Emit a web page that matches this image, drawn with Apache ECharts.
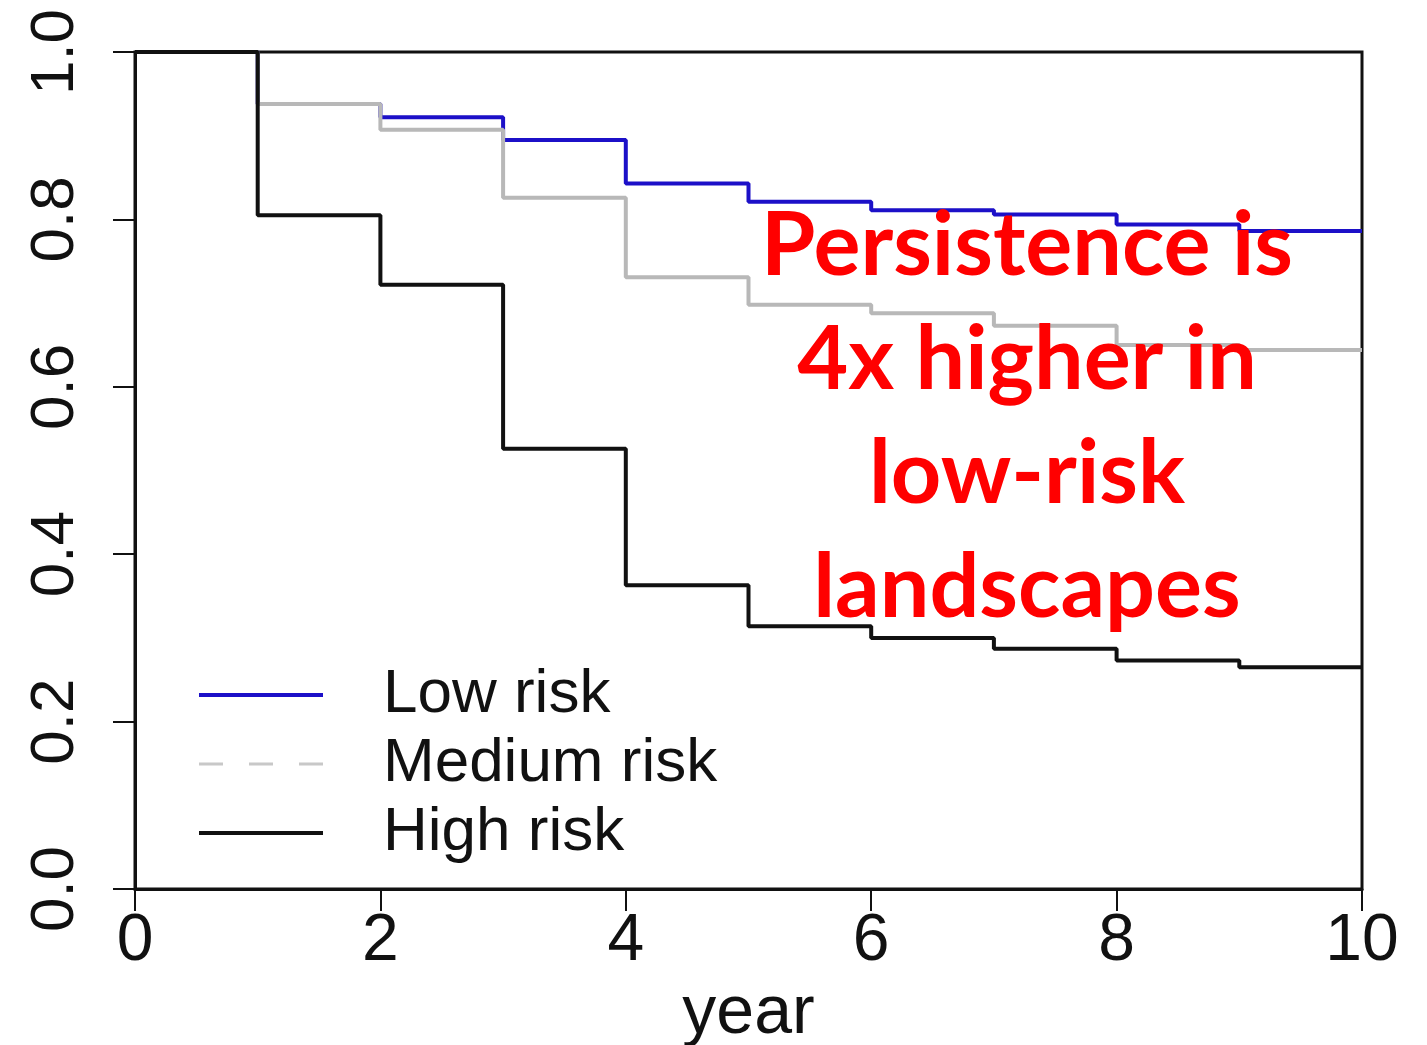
<!DOCTYPE html>
<html>
<head>
<meta charset="utf-8">
<script src="https://cdn.jsdelivr.net/npm/echarts@6/dist/echarts.min.js"></script>
<style>
  html, body { margin: 0; padding: 0; background: #fff; }
  #main { width: 1427px; height: 1045px; }
</style>
</head>
<body>
<div id="main"></div>
<script>
// survival by year (value held from each year to the next)
const years = [0, 1, 2, 3, 4, 5, 6, 7, 8, 9, 10];
const lowRisk = [1, 0.938, 0.922, 0.895, 0.843, 0.821, 0.811, 0.806, 0.794, 0.786, 0.786];
const mediumRisk = [1, 0.938, 0.907, 0.826, 0.731, 0.698, 0.688, 0.673, 0.650, 0.644, 0.644];
const highRisk = [1, 0.805, 0.722, 0.526, 0.363, 0.314, 0.300, 0.287, 0.273, 0.265, 0.265];
const seriesNames = ['Low risk', 'Medium risk', 'High risk'];
const note = ['Persistence is', '4x higher in', 'low-risk', 'landscapes'];

const font = 'Liberation Sans';

function pairs(vals) {
    return years.map((y, i) => [y, vals[i]]);
}

var myChart = echarts.init(document.getElementById('main'));

option = {
    backgroundColor: '#fff',
    animation: false,
    grid: {
        left: 135,
        top: 52,
        right: 65,
        bottom: 156,
        outerBoundsMode: 'none',
        containLabel: false,
        show: true,
        borderColor: '#111',
        borderWidth: 3
    },
    legend: {
        orient: 'vertical',
        left: 197,
        top: 664,
        padding: 0,
        itemWidth: 124,
        itemHeight: 20,
        itemGap: 7,
        itemStyle: { opacity: 0 },
        data: [
            { name: 'Low risk', lineStyle: { width: 4, color: '#1c10c8' } },
            { name: 'Medium risk', lineStyle: { type: [24, 26], width: 3, color: '#c8c8c8' } },
            { name: 'High risk', lineStyle: { width: 4, color: '#111' } }
        ],
        textStyle: {
            fontFamily: font,
            fontSize: 62,
            lineHeight: 60,
            color: '#111',
            padding: [0, 0, 0, 55]
        }
    },
    xAxis: {
        type: 'value',
        min: 0,
        max: 10,
        interval: 2,
        name: 'year',
        nameLocation: 'middle',
        nameGap: 80,
        nameTextStyle: { fontFamily: font, fontSize: 68, color: '#111' },
        axisLine: { lineStyle: { color: '#111', width: 3 } },
        axisTick: { length: 22, lineStyle: { color: '#111', width: 2 } },
        axisLabel: { fontFamily: font, fontSize: 66, color: '#111', margin: 20 },
        splitLine: { show: false }
    },
    yAxis: {
        type: 'value',
        min: 0,
        max: 1,
        interval: 0.2,
        axisLine: { show: true, lineStyle: { color: '#111', width: 3 } },
        axisTick: { show: true, length: 22, lineStyle: { color: '#111', width: 2 } },
        axisLabel: {
            fontFamily: font,
            fontSize: 62,
            color: '#111',
            rotate: 90,
            margin: 48,
            formatter: v => v.toFixed(1)
        },
        splitLine: { show: false }
    },
    series: [{
            name: seriesNames[0],
            type: 'line',
            step: 'end',
            symbol: 'none',
            lineStyle: { color: '#1c10c8', width: 4 },
            itemStyle: { color: '#1c10c8' },
            data: pairs(lowRisk)
        },
        {
            name: seriesNames[1],
            type: 'line',
            step: 'end',
            symbol: 'none',
            lineStyle: { color: '#b8b8b8', width: 4 },
            itemStyle: { color: '#b8b8b8' },
            data: pairs(mediumRisk)
        },
        {
            name: seriesNames[2],
            type: 'line',
            step: 'end',
            symbol: 'none',
            lineStyle: { color: '#111', width: 4 },
            itemStyle: { color: '#111' },
            data: pairs(highRisk)
        }
    ],
    graphic: [{
        type: 'text',
        x: 1027,
        y: 190,
        z: 100,
        style: {
            text: note.join('\n'),
            fill: '#ff0000',
            font: 'bold 88px Lato',
            lineHeight: 114,
            textAlign: 'center',
            textVerticalAlign: 'top'
        }
    }]
};

myChart.setOption(option);
</script>
</body>
</html>
